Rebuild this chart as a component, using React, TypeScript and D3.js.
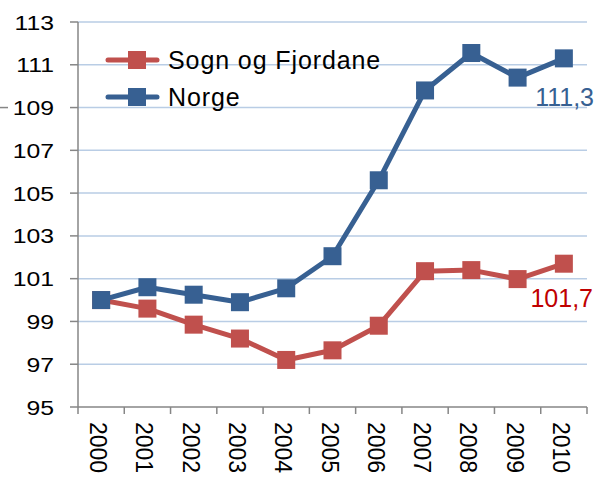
import React from "react";
import * as d3 from "d3";

const years = ["2000","2001","2002","2003","2004","2005","2006","2007","2008","2009","2010"];
const sogn = [100, 99.6, 98.85, 98.2, 97.2, 97.65, 98.8, 101.35, 101.4, 100.98, 101.7];
const norge = [100, 100.6, 100.25, 99.9, 100.55, 102.05, 105.6, 109.8, 111.55, 110.4, 111.3];
const yTicks = [95, 97, 99, 101, 103, 105, 107, 109, 111, 113];
const seriesNames = ["Sogn og Fjordane", "Norge"];
const endLabels = ["101,7", "111,3"];

const W = 599, H = 481;
const left = 78, right = 587, top = 22, bottom = 407;
const RED = "#C0504D", BLUE = "#376092";

export default function App() {
  const x = d3.scaleBand<string>().domain(years).range([left, right]);
  const y = d3.scaleLinear().domain([95, 113]).range([bottom, top]);
  const cx = (yr: string) => (x(yr) as number) + x.bandwidth() / 2;
  const line = d3.line<number>().x((_, i) => cx(years[i])).y((d) => y(d));
  const font = "Liberation Sans, Arial, sans-serif";
  const series = [
    { name: seriesNames[0], data: sogn, color: RED },
    { name: seriesNames[1], data: norge, color: BLUE },
  ];
  const boundaries = years.map((yr) => x(yr) as number).concat([right]);
  return (
    <div style={{ position: "fixed", left: 0, top: 0 }}>
      <svg width={W} height={H} style={{ display: "block", background: "#fff" }}>
        {yTicks.map((t) => (
          <g key={t}>
            {t !== 95 && <line x1={left} x2={right} y1={y(t)} y2={y(t)} stroke="#B9CDE5" strokeWidth={1.5} />}
            <line x1={70} x2={left} y1={y(t)} y2={y(t)} stroke="#868686" strokeWidth={1.5} />
            <text transform={`translate(54,${y(t)}) scale(1.18,1)`} dy="0.36em" textAnchor="end" fontFamily={font} fontSize={21} fill="#000">{t}</text>
          </g>
        ))}
        <line x1={0} x2={8} y1={y(109)} y2={y(109)} stroke="#868686" strokeWidth={1.5} />
        <line x1={left} x2={left} y1={top} y2={bottom} stroke="#868686" strokeWidth={1.5} />
        <line x1={left} x2={right} y1={bottom} y2={bottom} stroke="#868686" strokeWidth={1.5} />
        {boundaries.map((b, i) => (
          <line key={i} x1={b} x2={b} y1={bottom} y2={bottom + 7} stroke="#868686" strokeWidth={1.5} />
        ))}
        {years.map((yr) => (
          <text key={yr} transform={`translate(${cx(yr) - 11},${bottom + 15}) rotate(90)`} fontFamily={font} fontSize={23} fill="#000">{yr}</text>
        ))}
        {series.map((s) => (
          <g key={s.name}>
            <path d={line(s.data) as string} fill="none" stroke={s.color} strokeWidth={5} strokeLinejoin="round" />
            {s.data.map((v, i) => (
              <rect key={i} x={cx(years[i]) - 9} y={y(v) - 9} width={18} height={18} fill={s.color} />
            ))}
          </g>
        ))}
        <text x={594} y={106} textAnchor="end" fontFamily={font} fontSize={25} fill={BLUE}>{endLabels[1]}</text>
        <text x={593} y={307} textAnchor="end" fontFamily={font} fontSize={25} fill="#C00000">{endLabels[0]}</text>
        {series.map((s, i) => {
          const ly = 60 + i * 37;
          return (
            <g key={s.name}>
              <line x1={108} x2={157} y1={ly} y2={ly} stroke={s.color} strokeWidth={5} strokeLinecap="round" />
              <rect x={128} y={ly - 9} width={18} height={18} fill={s.color} />
              <text x={168} y={ly + 9} fontFamily={font} fontSize={25} letterSpacing={0.9} fill="#000">{s.name}</text>
            </g>
          );
        })}
      </svg>
    </div>
  );
}
